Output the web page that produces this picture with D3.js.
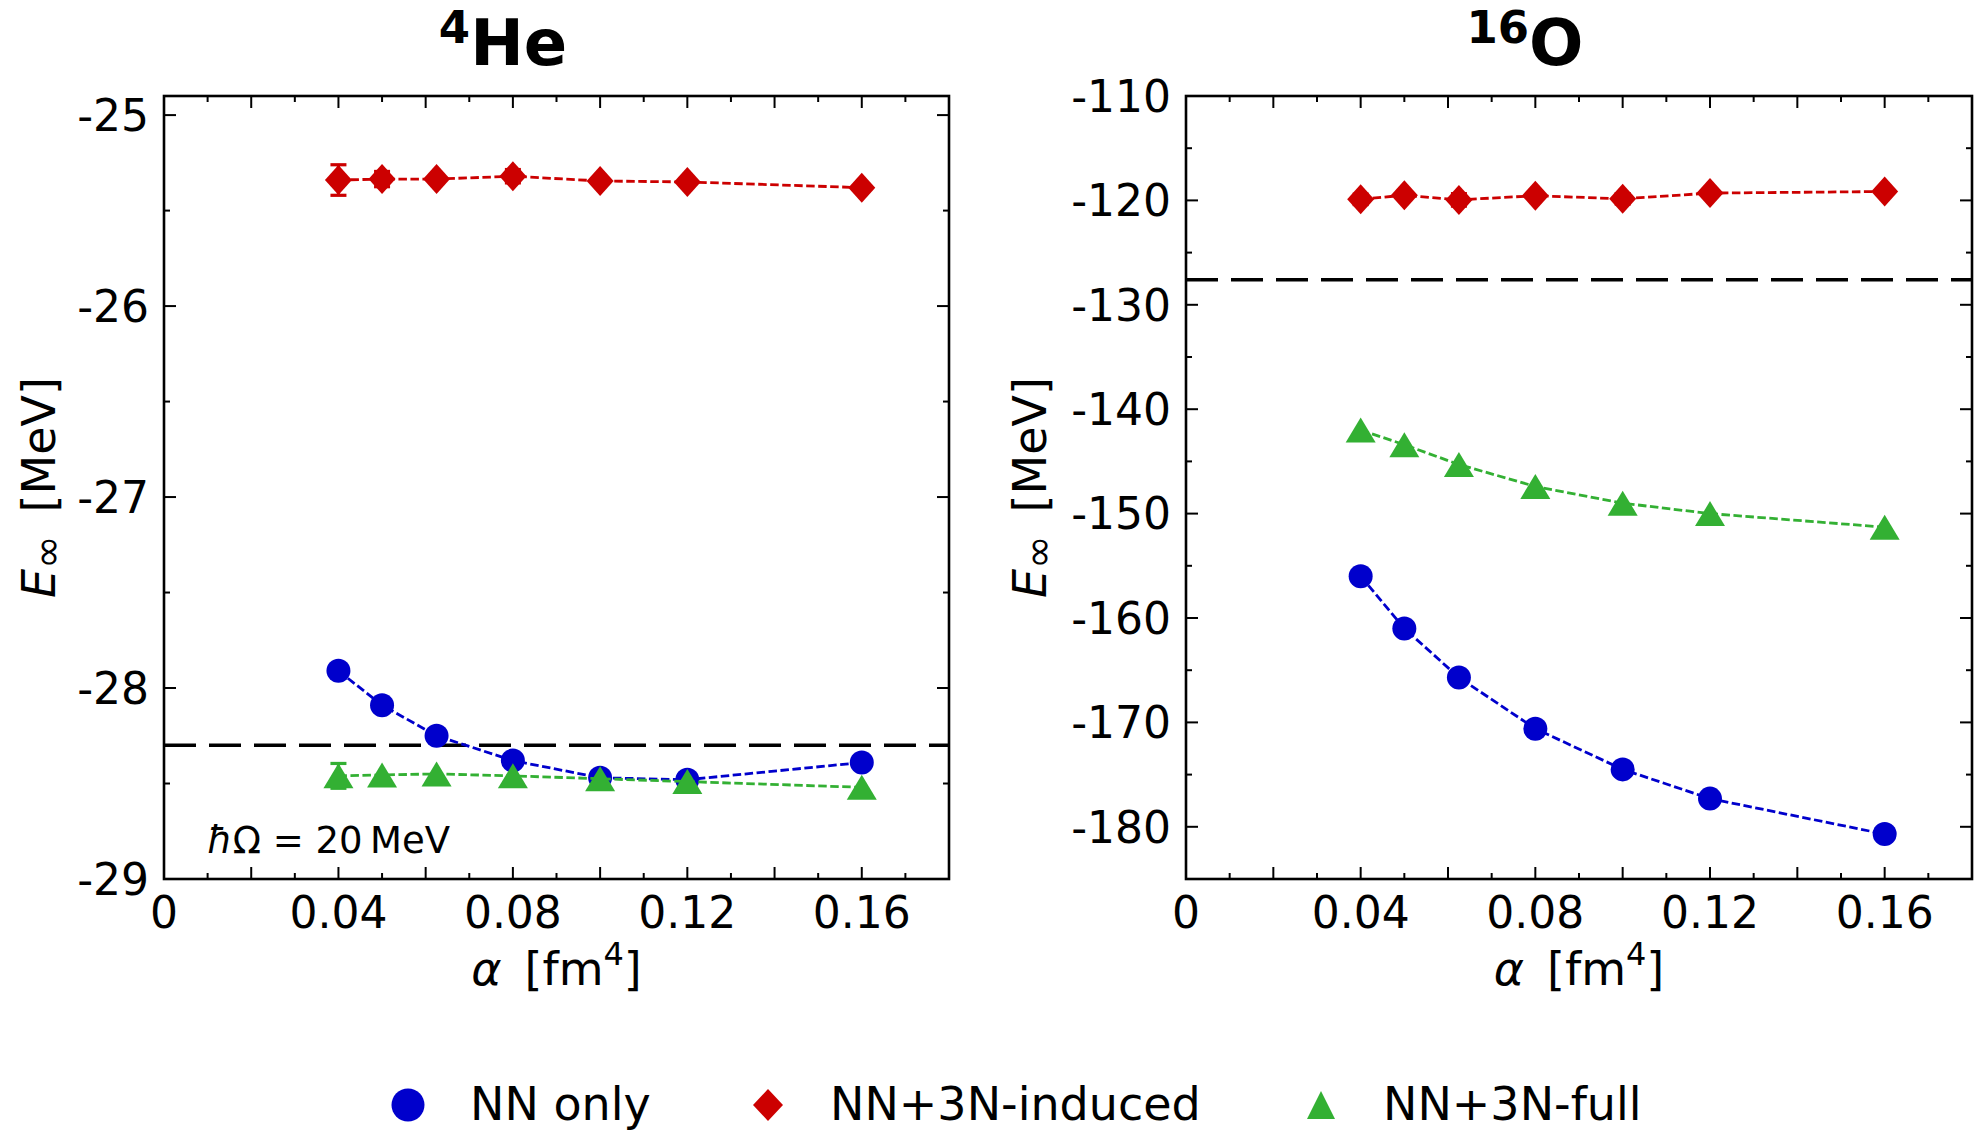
<!DOCTYPE html>
<html lang="en">
<head>
<meta charset="UTF-8">
<title>E_inf vs alpha for 4He and 16O</title>
<script src="https://d3js.org/d3.v7.min.js"></script>
<style>
    body { margin: 0; background: #fff; }
    svg text { font-family: "DejaVu Sans", sans-serif; fill: #000; }
</style>
</head>
<body>
<div id="chart"></div>
<script>
    // alpha values [fm^4]
    var alphas = [0.04, 0.05, 0.0625, 0.08, 0.10, 0.12, 0.16];

    // 4He, E_inf [MeV]
    var he4NN      = [-27.91, -28.09, -28.25, -28.38, -28.47, -28.48, -28.39];
    var he4Induced = [-25.34, -25.335, -25.335, -25.32, -25.345, -25.35, -25.38];
    var he4Full    = [-28.46, -28.455, -28.45, -28.46, -28.475, -28.49, -28.52];
    var he4InducedErr = [0.08, 0.04, 0, 0.035, 0, 0, 0];
    var he4FullErr    = [0.065, 0, 0, 0, 0, 0, 0];
    var he4Exp = -28.3;

    // 16O, E_inf [MeV]
    var o16NN      = [-156.0, -161.0, -165.7, -170.6, -174.5, -177.3, -180.7];
    var o16Induced = [-119.9, -119.5, -119.95, -119.55, -119.85, -119.3, -119.15];
    var o16Full    = [-142.0, -143.4, -145.3, -147.4, -149.0, -150.0, -151.3];
    var o16InducedErr = [0.5, 0, 0.6, 0, 0.5, 0, 0];
    var o16FullErr    = [0, 0, 0, 0, 0, 0, 0];
    var o16Exp = -127.6;

    var seriesNames = ["NN only", "NN+3N-induced", "NN+3N-full"];
    var seriesColors = ["#0000cc", "#cc0000", "#33b033"];

    var W = 1981, H = 1130;
    var svg = d3.select("#chart").append("svg")
        .attr("width", W)
        .attr("height", H);

    var panels = [
        {sup: "4", name: "He", x0: 164, x1: 949, yDomain: [-29, -24.9], major: 1, minor: 0.5,
         series: [he4NN, he4Induced, he4Full], errs: [null, he4InducedErr, he4FullErr], exp: he4Exp,
         labelX: 55, note: true},
        {sup: "16", name: "O", x0: 1186, x1: 1972, yDomain: [-185, -110], major: 10, minor: 5,
         series: [o16NN, o16Induced, o16Full], errs: [null, o16InducedErr, o16FullErr], exp: o16Exp,
         labelX: 1046, note: false}
    ];
    var plotTop = 96, plotBottom = 879;

    // kind: 0 circle, 1 diamond, 2 triangle up; hw/hh = half width/height
    function markerPath(kind, hw, hh) {
        if (kind === 0) {
            return d3.symbol().type(d3.symbolCircle).size(Math.PI * hw * hw)();
        } else if (kind === 1) {
            return "M0," + (-hh) + "L" + hw + ",0L0," + hh + "L" + (-hw) + ",0Z";
        }
        return "M0," + (-hh) + "L" + hw + "," + hh + "L" + (-hw) + "," + hh + "Z";
    }
    var plotMarkers = [[12, 12], [13.5, 15], [15, 12.5]];
    var legendMarkers = [[16.5, 16.5], [15, 16], [14, 14]];

    panels.forEach(function(p) {
        var x = d3.scaleLinear().domain([0, 0.18]).range([p.x0, p.x1]);
        var y = d3.scaleLinear().domain(p.yDomain).range([plotBottom, plotTop]);
        var g = svg.append("g");

        // title
        var title = g.append("text")
            .attr("x", p.x0 + 339)
            .attr("y", 65)
            .attr("text-anchor", "middle")
            .style("font-weight", "bold");
        title.append("tspan").attr("font-size", 45).attr("dy", -22).text(p.sup);
        title.append("tspan").attr("font-size", 64).attr("dy", 22).text(p.name);

        // reference dashed line
        g.append("line")
            .attr("x1", p.x0).attr("x2", p.x1)
            .attr("y1", y(p.exp)).attr("y2", y(p.exp))
            .attr("stroke", "#000")
            .attr("stroke-width", 3.5)
            .attr("stroke-dasharray", "32,13");

        // series
        p.series.forEach(function(vals, si) {
            var pts = alphas.map(function(a, i) { return [x(a), y(vals[i])]; });
            g.append("path")
                .attr("d", d3.line()(pts))
                .attr("fill", "none")
                .attr("stroke", seriesColors[si])
                .attr("stroke-width", 2.8)
                .attr("stroke-dasharray", "8.5,3.5");

            var err = p.errs[si];
            if (err) {
                alphas.forEach(function(a, i) {
                    if (!err[i]) return;
                    var cx = x(a), ya = y(vals[i] + err[i]), yb = y(vals[i] - err[i]);
                    var eg = g.append("g").attr("stroke", seriesColors[si]).attr("stroke-width", 3.2);
                    eg.append("line").attr("x1", cx).attr("x2", cx).attr("y1", ya).attr("y2", yb);
                    eg.append("line").attr("x1", cx - 8).attr("x2", cx + 8).attr("y1", ya).attr("y2", ya);
                    eg.append("line").attr("x1", cx - 8).attr("x2", cx + 8).attr("y1", yb).attr("y2", yb);
                });
            }

            g.selectAll(null)
                .data(pts)
                .enter().append("path")
                .attr("transform", function(d) { return "translate(" + d[0] + "," + d[1] + ")"; })
                .attr("d", markerPath(si, plotMarkers[si][0], plotMarkers[si][1]))
                .attr("fill", seriesColors[si]);
        });

        // ticks, all four sides, inward
        var xMajor = d3.range(0, 0.1801, 0.02);
        var xMinor = d3.range(0.01, 0.18, 0.02);
        var tg = g.append("g").attr("stroke", "#000").attr("stroke-width", 2);
        xMajor.forEach(function(v) {
            tg.append("line").attr("x1", x(v)).attr("x2", x(v)).attr("y1", plotBottom).attr("y2", plotBottom - 12);
            tg.append("line").attr("x1", x(v)).attr("x2", x(v)).attr("y1", plotTop).attr("y2", plotTop + 12);
        });
        xMinor.forEach(function(v) {
            tg.append("line").attr("x1", x(v)).attr("x2", x(v)).attr("y1", plotBottom).attr("y2", plotBottom - 6);
            tg.append("line").attr("x1", x(v)).attr("x2", x(v)).attr("y1", plotTop).attr("y2", plotTop + 6);
        });
        var yMaj = d3.range(Math.ceil(p.yDomain[0] / p.major) * p.major, p.yDomain[1] + 1e-9, p.major);
        var yMin = d3.range(Math.ceil(p.yDomain[0] / p.minor) * p.minor, p.yDomain[1] + 1e-9, p.minor)
            .filter(function(v) { return Math.abs(v / p.major - Math.round(v / p.major)) > 1e-6; });
        yMaj.forEach(function(v) {
            tg.append("line").attr("x1", p.x0).attr("x2", p.x0 + 12).attr("y1", y(v)).attr("y2", y(v));
            tg.append("line").attr("x1", p.x1).attr("x2", p.x1 - 12).attr("y1", y(v)).attr("y2", y(v));
        });
        yMin.forEach(function(v) {
            tg.append("line").attr("x1", p.x0).attr("x2", p.x0 + 6).attr("y1", y(v)).attr("y2", y(v));
            tg.append("line").attr("x1", p.x1).attr("x2", p.x1 - 6).attr("y1", y(v)).attr("y2", y(v));
        });

        // frame
        g.append("rect")
            .attr("x", p.x0).attr("y", plotTop)
            .attr("width", p.x1 - p.x0).attr("height", plotBottom - plotTop)
            .attr("fill", "none")
            .attr("stroke", "#000")
            .attr("stroke-width", 2.6);

        // tick labels
        g.selectAll(null)
            .data([0, 0.04, 0.08, 0.12, 0.16])
            .enter().append("text")
            .attr("x", function(d) { return x(d); })
            .attr("y", 928)
            .attr("text-anchor", "middle")
            .attr("font-size", 44)
            .text(function(d) { return d === 0 ? "0" : d3.format(".2f")(d); });
        g.selectAll(null)
            .data(yMaj)
            .enter().append("text")
            .attr("x", p.x0 - 15)
            .attr("y", function(d) { return y(d); })
            .attr("dy", "0.36em")
            .attr("text-anchor", "end")
            .attr("font-size", 44)
            .text(function(d) { return String(d); });

        // axis labels
        var xl = g.append("text")
            .attr("x", (p.x0 + p.x1) / 2)
            .attr("y", 985)
            .attr("text-anchor", "middle")
            .attr("font-size", 46);
        xl.append("tspan").style("font-style", "italic").text("\u03b1");
        xl.append("tspan").text("\u2002[fm");
        xl.append("tspan").attr("font-size", 32).attr("dy", -20).text("4");
        xl.append("tspan").attr("dy", 20).text("]");

        var yl = g.append("text")
            .attr("transform", "translate(" + p.labelX + "," + ((plotTop + plotBottom) / 2) + ") rotate(-90)")
            .attr("text-anchor", "middle")
            .attr("font-size", 46);
        yl.append("tspan").style("font-style", "italic").text("E");
        yl.append("tspan").attr("font-size", 40).attr("dy", 6).text("\u221e");
        yl.append("tspan").attr("dy", -6).text("\u2002[MeV]");

        if (p.note) {
            var nt = g.append("text")
                .attr("x", 207).attr("y", 853)
                .attr("font-size", 37);
            nt.append("tspan").style("font-style", "italic").text("\u0127");
            nt.append("tspan").text("\u03a9 = 20\u2009MeV");
        }
    });

    // legend
    var legendX = [408, 768, 1321];
    var lg = svg.append("g");
    seriesNames.forEach(function(name, i) {
        lg.append("path")
            .attr("transform", "translate(" + legendX[i] + ",1105)")
            .attr("d", markerPath(i, legendMarkers[i][0], legendMarkers[i][1]))
            .attr("fill", seriesColors[i]);
        lg.append("text")
            .attr("x", legendX[i] + 62)
            .attr("y", 1120)
            .attr("font-size", 46)
            .text(name);
    });
</script>
</body>
</html>
